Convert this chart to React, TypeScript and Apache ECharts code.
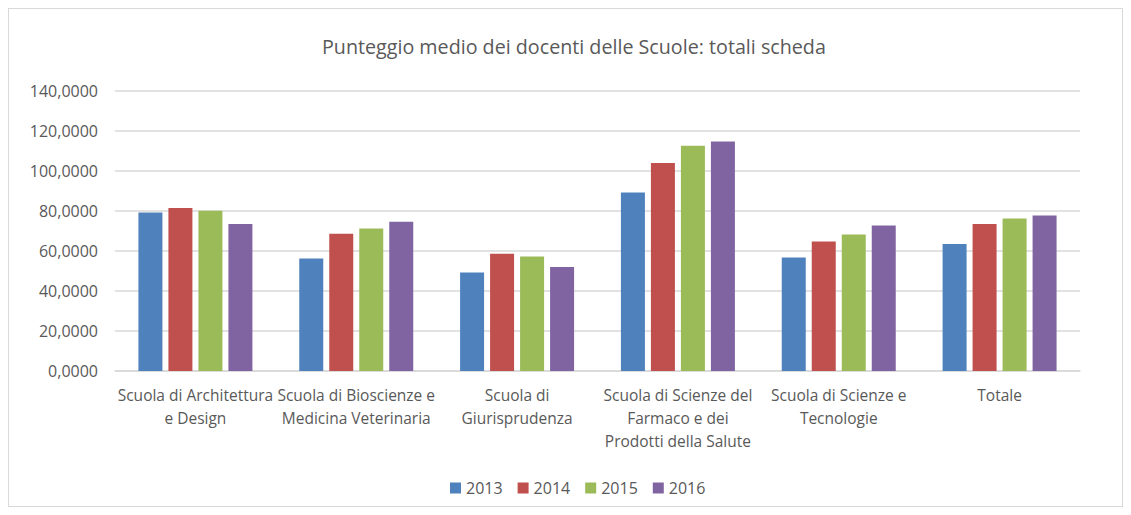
import React, { useEffect, useRef } from "react";
import * as echarts from "echarts";

const categories = [
  "Scuola di Architettura\ne Design",
  "Scuola di Bioscienze e\nMedicina Veterinaria",
  "Scuola di\nGiurisprudenza",
  "Scuola di Scienze del\nFarmaco e dei\nProdotti della Salute",
  "Scuola di Scienze e\nTecnologie",
  "Totale",
];
const seriesNames = ["2013", "2014", "2015", "2016"];
const v2013 = [79.3, 56.3, 49.3, 89.3, 56.8, 63.5];
const v2014 = [81.5, 68.6, 58.6, 104.0, 64.8, 73.5];
const v2015 = [80.1, 71.3, 57.3, 112.6, 68.2, 76.3];
const v2016 = [73.5, 74.6, 52.0, 114.8, 72.8, 77.8];
const colors = ["#4f81bd", "#c0504d", "#9bbb59", "#8064a2"];

const FONT = "'Open Sans', 'Noto Sans', sans-serif";

export default function App() {
  const ref = useRef<HTMLDivElement>(null);
  useEffect(() => {
    if (!ref.current) return;
    const chart = echarts.init(ref.current, undefined, { renderer: "svg" });
    const data = [v2013, v2014, v2015, v2016];
    chart.setOption({
      animation: false,
      title: {
        text: "Punteggio medio dei docenti delle Scuole: totali scheda",
        left: 308,
        top: 22,
        textStyle: { fontFamily: FONT, fontSize: 19.7, fontWeight: "normal", color: "#595959" },
      },
      legend: {
        bottom: 5,
        left: 436,
        itemWidth: 11,
        itemHeight: 11,
        itemGap: 15,
        icon: "rect",
        textStyle: { fontFamily: FONT, fontSize: 16, color: "#595959" },
        data: seriesNames,
      },
      grid: { left: 106, right: 42, top: 82, bottom: 135 },
      xAxis: {
        type: "category",
        data: categories,
        axisLine: { lineStyle: { color: "#d9d9d9", width: 1.5 } },
        axisTick: { show: false },
        axisLabel: {
          interval: 0,
          margin: 12,
          fontFamily: FONT,
          fontSize: 15.5,
          color: "#595959",
          lineHeight: 23,
        },
      },
      yAxis: {
        type: "value",
        min: 0,
        max: 140,
        interval: 20,
        axisLine: { show: false },
        axisTick: { show: false },
        splitLine: { lineStyle: { color: "#d9d9d9", width: 1.5 } },
        axisLabel: {
          margin: 17,
          fontFamily: FONT,
          fontSize: 16,
          color: "#595959",
          formatter: (v: number) => v.toFixed(4).replace(".", ","),
        },
      },
      series: seriesNames.map((name, i) => ({
        name,
        type: "bar",
        data: data[i],
        barWidth: 24,
        barGap: "25%",
        itemStyle: { color: colors[i] },
      })),
    });
    return () => chart.dispose();
  }, []);
  return (
    <div
      ref={ref}
      style={{ width: 1113, height: 497, border: "1px solid #d9d9d9" }}
    />
  );
}
